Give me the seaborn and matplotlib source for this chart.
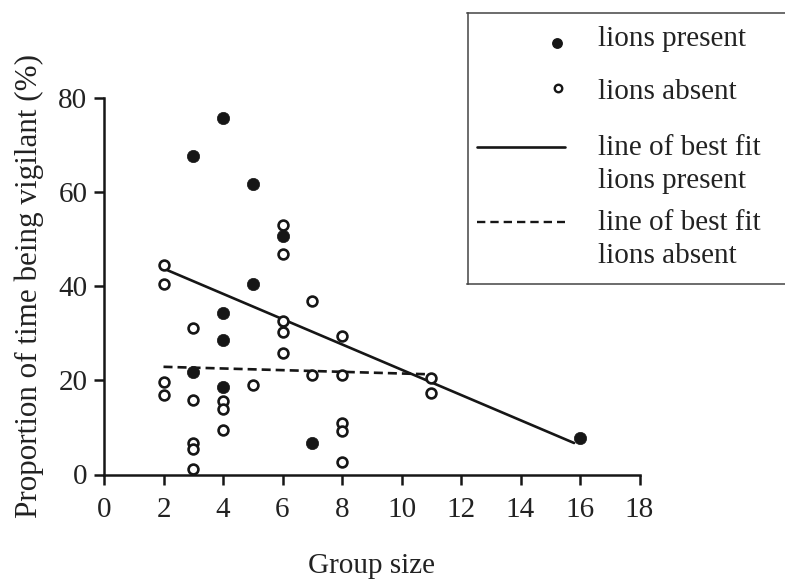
import matplotlib
matplotlib.use("Agg")
import matplotlib.pyplot as plt
from matplotlib.lines import Line2D
import numpy as np
import pandas as pd
import seaborn as sns

# Group size and vigilance (%) for groups observed with lions present
present_size = [3, 4, 5, 6, 5, 4, 4, 3, 4, 7, 16]
present_vigil = [67.8, 75.8, 61.7, 50.7, 40.5, 34.4, 28.6, 21.8, 18.7, 6.6, 7.8]

# Group size and vigilance (%) for groups observed with lions absent
absent_size = [2, 2, 2, 2, 3, 3, 3, 3, 3, 4, 4, 4, 5, 6, 6, 6, 6, 6,
               7, 7, 8, 8, 8, 8, 8, 11, 11]
absent_vigil = [44.6, 40.6, 19.7, 16.8, 31.1, 15.9, 6.8, 5.4, 1.2,
                15.7, 13.9, 9.5, 19.0, 53.1, 46.9, 32.7, 30.3, 25.9,
                37.0, 21.2, 29.5, 21.2, 11.0, 9.3, 2.6, 20.6, 17.3]

# End points of the two lines of best fit
fit_present_x = [2, 15.8]
fit_present_y = [43.8, 6.7]
fit_absent_x = [2, 11]
fit_absent_y = [22.9, 21.3]

x_ticks = [0, 2, 4, 6, 8, 10, 12, 14, 16, 18]
y_ticks = [0, 20, 40, 60, 80]

legend_labels = ["lions present", "lions absent",
                 "line of best fit\nlions present",
                 "line of best fit\nlions absent"]

sns.set_style("ticks")
plt.rcParams["font.family"] = ["Liberation Serif", "DejaVu Serif"]
plt.rcParams["lines.scale_dashes"] = False

INK = "#161616"
TXT = "#222222"
W, H = 785, 581
fig = plt.figure(figsize=(W / 100, H / 100), dpi=100)

# main axes placed in pixel terms
left, right, top, bottom = 104, 639.5, 98.3, 474.5
ax = fig.add_axes([left / W, 1 - bottom / H, (right - left) / W, (bottom - top) / H])

df_p = pd.DataFrame({"size": present_size, "vigil": present_vigil})
df_a = pd.DataFrame({"size": absent_size, "vigil": absent_vigil})

sns.lineplot(x=fit_present_x, y=fit_present_y, color=INK, linewidth=1.9, ax=ax)
sns.lineplot(x=fit_absent_x, y=fit_absent_y, color=INK, linewidth=1.9,
             linestyle=(0, (6.5, 3.6)), ax=ax)

sns.scatterplot(data=df_p, x="size", y="vigil", color=INK, edgecolor=INK,
                s=78, linewidth=0.5, ax=ax, zorder=3)
sns.scatterplot(data=df_a, x="size", y="vigil", facecolor="white", edgecolor=INK,
                s=50, linewidth=1.9, ax=ax, zorder=3)

ax.set_xlim(0, 18)
ax.set_ylim(0, 80)
ax.set_xticks(x_ticks)
ax.set_yticks(y_ticks)
ax.set_xticklabels([str(t) for t in x_ticks])
ax.set_yticklabels([str(t) for t in y_ticks])
sns.despine(ax=ax)
for s in ("left", "bottom"):
    ax.spines[s].set_linewidth(1.8)
    ax.spines[s].set_color(INK)
ax.tick_params(axis="both", direction="out", length=7, width=1.8, color=INK,
               labelsize=21, labelcolor=TXT)
ax.tick_params(axis="x", pad=9)
ax.tick_params(axis="y", pad=5)
ax.set_xlabel("Group size", fontsize=21, color=TXT, labelpad=22)
ax.set_ylabel("Proportion of time being vigilant (%)", fontsize=22.4,
              color=TXT, labelpad=10)

# legend panel drawn in pixel coordinates
lx0, lx1, ly0, ly1 = 467.5, 800, 13, 284.5
lax = fig.add_axes([lx0 / W, 1 - ly1 / H, (lx1 - lx0) / W, (ly1 - ly0) / H])
lax.set_xlim(lx0, lx1)
lax.set_ylim(ly1, ly0)
lax.set_xticks([])
lax.set_yticks([])
for s in lax.spines.values():
    s.set_linewidth(1.1)
    s.set_color("#444444")
lax.patch.set_facecolor("white")

lax.add_line(Line2D([556.7], [42.7], marker="o", markersize=6.8,
                    markerfacecolor=INK, markeredgecolor=INK, linestyle="none"))
lax.add_line(Line2D([557.5], [88.5], marker="o", markersize=5.4,
                    markerfacecolor="white", markeredgecolor=INK,
                    markeredgewidth=1.7, linestyle="none"))
lax.add_line(Line2D([477, 565], [147, 147], color=INK, linewidth=1.9))
lax.add_line(Line2D([477, 565], [222.5, 222.5], color=INK, linewidth=1.7,
                    linestyle=(0, (6.0, 3.6))))

text_kw = dict(fontsize=21, color=TXT, ha="left", va="baseline")
lax.text(598, 46, legend_labels[0], **text_kw)
lax.text(598, 99, legend_labels[1], **text_kw)
for y, lab in ((155, legend_labels[2]), (230, legend_labels[3])):
    a, b = lab.split("\n")
    lax.text(598, y, a, **text_kw)
    lax.text(598, y + 33, b, **text_kw)

fig.savefig("out.png", dpi=100)
